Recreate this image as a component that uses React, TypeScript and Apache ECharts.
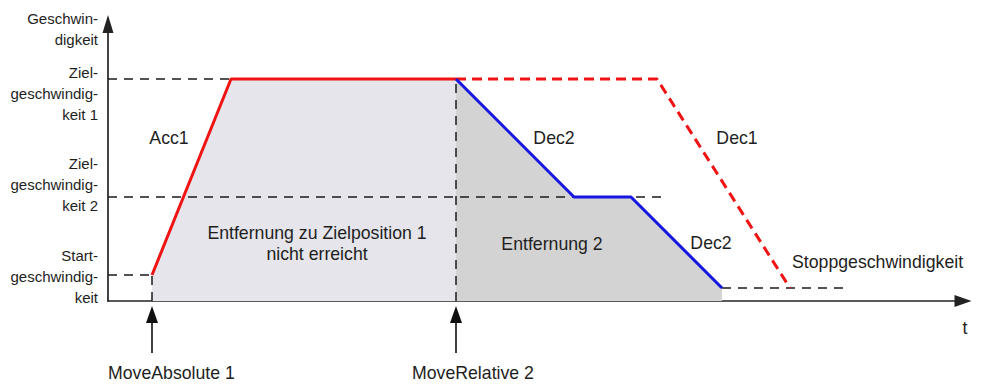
import React, { useEffect, useRef } from "react";
import * as echarts from "echarts";

// time axis (arbitrary units) and velocity axis (arbitrary units)
const timeMax = 855;
const velocityMax = 277;

// velocity levels: target 1, target 2, start, stop
const levelValues = [222, 104, 26, 13];

// MoveAbsolute 1 profile (Acc1 then constant target velocity 1)
const moveAbsProfile = [
  [44, 26],
  [123, 222],
  [348, 222],
];
// MoveRelative 2 profile (Dec2 to target 2, constant, Dec2 to stop)
const moveRelProfile = [
  [348, 222],
  [466, 104],
  [523, 104],
  [614, 13],
];
// original MoveAbsolute 1 continuation (Dec1), dashed
const dec1Profile = [
  [348, 222],
  [549, 222],
  [682, 13],
];

// reference dashed lines
const target1Dash = [[0, 222], [123, 222]];
const target2Dash = [[0, 104], [557, 104]];
const startDash = [[0, 26], [44, 26]];
const stopDash = [[614, 13], [740, 13]];
const eventTimes = [44, 348];
const eventNames = ["MoveAbsolute 1", "MoveRelative 2"];

const FONT = "'Liberation Sans', Arial, Helvetica, sans-serif";
const TXT = "#1e1e1e";

export default function App() {
  const ref = useRef<HTMLDivElement>(null);

  useEffect(() => {
    if (!ref.current) return;
    const chart = echarts.init(ref.current, undefined, { renderer: "svg" });

    const dashLine = (data: number[][]) => ({
      type: "line",
      data,
      symbol: "none",
      silent: true,
      z: 2,
      lineStyle: { color: "#1a1a1a", width: 1.5, type: [9, 7] },
    });

    const axisCommon = {
      type: "value",
      axisTick: { show: false },
      axisLabel: { show: false },
      splitLine: { show: false },
      axisLine: {
        show: true,
        symbol: ["none", "triangle"],
        lineStyle: { color: "#222", width: 1.7 },
      },
    };

    chart.setOption({
      animation: false,
      grid: { left: 108, right: 20, top: 24, bottom: 87 },
      xAxis: {
        ...axisCommon,
        min: 0,
        max: timeMax,
        axisLine: { ...axisCommon.axisLine, symbolSize: [12, 17], onZero: false },
      },
      yAxis: {
        ...axisCommon,
        min: 0,
        max: velocityMax,
        axisLine: { ...axisCommon.axisLine, symbolSize: [11, 18], onZero: false },
      },
      series: [
        {
          type: "line",
          data: moveAbsProfile,
          symbol: "none",
          silent: true,
          z: 1,
          lineStyle: { width: 0 },
          areaStyle: { color: "#e5e5eb", opacity: 1 },
        },
        {
          type: "line",
          data: moveRelProfile,
          symbol: "none",
          silent: true,
          z: 1,
          lineStyle: { width: 0 },
          areaStyle: { color: "#d3d3d3", opacity: 1 },
        },
        dashLine(target1Dash),
        dashLine(target2Dash),
        dashLine(startDash),
        dashLine(stopDash),
        dashLine([[eventTimes[0], 0], [eventTimes[0], levelValues[2]]]),
        dashLine([[eventTimes[1], 0], [eventTimes[1], levelValues[0]]]),
        {
          type: "line",
          data: dec1Profile,
          symbol: "none",
          silent: true,
          z: 3,
          lineStyle: { color: "#f01414", width: 3, type: [10, 6] },
        },
        {
          type: "line",
          data: moveAbsProfile,
          symbol: "none",
          silent: true,
          z: 4,
          lineStyle: { color: "#f01414", width: 3 },
        },
        {
          type: "line",
          data: moveRelProfile,
          symbol: "none",
          silent: true,
          z: 4,
          lineStyle: { color: "#1616e0", width: 3 },
        },
      ],
    });

    const x0 = chart.convertToPixel({ gridIndex: 0 }, [0, 0]) as number[];
    const baseY = x0[1];

    const txt = (
      text: string,
      x: number,
      y: number,
      align: string,
      size: number,
      vAlign = "middle"
    ) => ({
      type: "text",
      x,
      y,
      z: 100,
      silent: true,
      style: {
        text,
        fill: TXT,
        font: `${size}px ${FONT}`,
        fontSize: size,
        fontFamily: FONT,
        align,
        verticalAlign: vAlign,
        lineHeight: 21,
      },
    });

    const graphics: any[] = [];
    eventTimes.forEach((t, i) => {
      const px = (chart.convertToPixel({ xAxisIndex: 0 }, t) as number);
      graphics.push({
        type: "line",
        z: 100,
        silent: true,
        shape: { x1: px, y1: baseY + 20, x2: px, y2: baseY + 52 },
        style: { stroke: "#111", lineWidth: 1.6 },
      });
      graphics.push({
        type: "polygon",
        z: 100,
        silent: true,
        shape: { points: [[px, baseY + 5], [px - 6, baseY + 22], [px + 6, baseY + 22]] },
        style: { fill: "#111" },
      });
      graphics.push(txt(eventNames[i], px - 44, baseY + 72, "left", 17.7));
    });

    // y-axis labels
    graphics.push(txt("Geschwin-\ndigkeit", 98, 7.5, "right", 15, "top"));
    graphics.push(txt("Ziel-\ngeschwindig-\nkeit 1", 98, 61.5, "right", 15, "top"));
    graphics.push(txt("Ziel-\ngeschwindig-\nkeit 2", 98, 152.5, "right", 15, "top"));
    graphics.push(txt("Start-\ngeschwindig-\nkeit", 98, 244.5, "right", 15, "top"));

    // in-chart labels
    graphics.push(txt("Acc1", 169, 138, "center", 17.7));
    graphics.push(txt("Dec2", 554, 138, "center", 17.7));
    graphics.push(txt("Dec1", 737, 138, "center", 17.7));
    graphics.push(txt("Dec2", 711, 243, "center", 17.7));
    graphics.push(txt("Entfernung 2", 552, 244, "center", 17.7));
    graphics.push(txt("Entfernung zu Zielposition 1\nnicht erreicht", 317, 222.5, "center", 17.7, "top"));
    graphics.push(txt("Stoppgeschwindigkeit", 792, 262, "left", 17.7));
    graphics.push(txt("t", 965, 328, "center", 17.7));

    chart.setOption({ graphic: graphics });

    return () => chart.dispose();
  }, []);

  return (
    <div
      ref={ref}
      style={{ position: "fixed", left: 0, top: 0, width: 983, height: 388, background: "#fff" }}
    />
  );
}
